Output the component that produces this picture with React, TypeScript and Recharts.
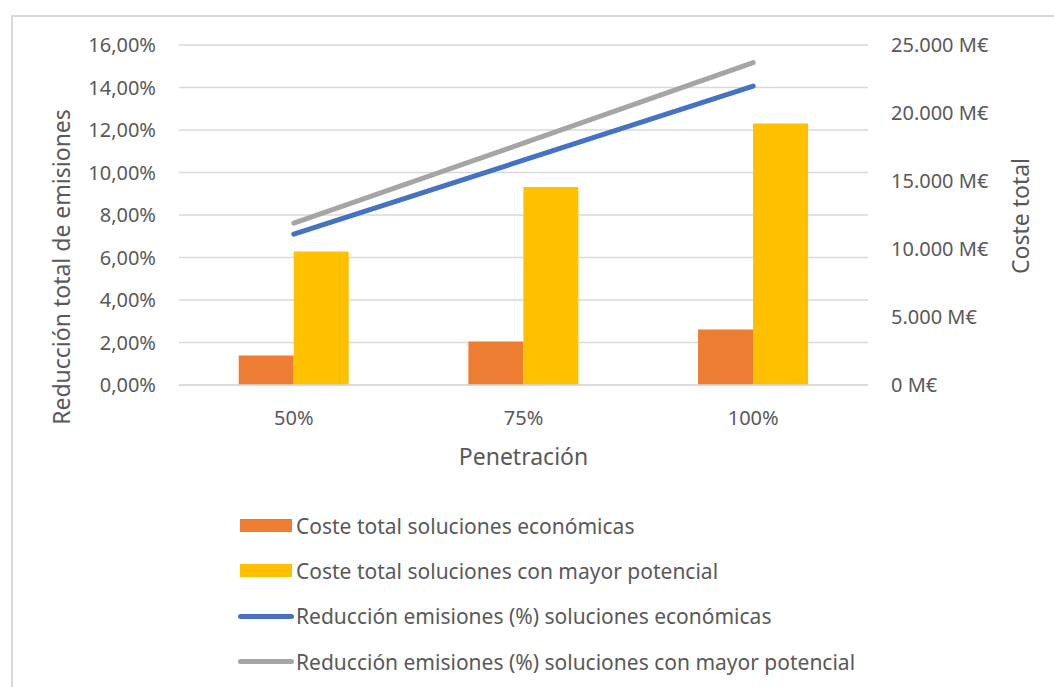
import { ComposedChart, Bar, Line, XAxis, YAxis, CartesianGrid } from 'recharts';

const categories = ['50%', '75%', '100%'];
const costeEconomicas = [2170, 3200, 4080];
const costePotencial = [9820, 14560, 19220];
const reduccionEconomicas = [7.1, 10.58, 14.07];
const reduccionPotencial = [7.62, 11.38, 15.17];
const pctTicks = [0, 2, 4, 6, 8, 10, 12, 14, 16];
const costTicks = [0, 5000, 10000, 15000, 20000, 25000];

const data = categories.map((cat, i) => ({
  cat,
  costeEco: costeEconomicas[i],
  costePot: costePotencial[i],
  redEco: reduccionEconomicas[i],
  redPot: reduccionPotencial[i],
}));

const FONT = '"Noto Sans", sans-serif';
const TEXT = '#595959';
const GRID = '#D9D9D9';

const legendItems = [
  { label: 'Coste total soluciones económicas', color: '#ED7D31', kind: 'bar' },
  { label: 'Coste total soluciones con mayor potencial', color: '#FFC000', kind: 'bar' },
  { label: 'Reducción emisiones (%) soluciones económicas', color: '#4472C4', kind: 'line' },
  { label: 'Reducción emisiones (%) soluciones con mayor potencial', color: '#A5A5A5', kind: 'line' },
];

const fmtPct = (v: number) => `${v.toFixed(2).replace('.', ',')}%`;
const fmtCost = (v: number) => `${String(v).replace(/\B(?=(\d{3})+(?!\d))/g, '.')} M€`;

const tickStyle = { fill: TEXT, fontSize: 20, fontFamily: FONT };

export default function App() {
  return (
    <div style={{ position: 'absolute', left: 0, top: 0, width: 1054, height: 687, background: '#fff', overflow: 'hidden', fontFamily: FONT }}>
      <div
        style={{
          position: 'absolute',
          left: 11,
          top: 15,
          width: 1100,
          height: 700,
          borderLeft: `2px solid ${GRID}`,
          borderTop: `2px solid ${GRID}`,
        }}
      />
      <div style={{ position: 'absolute', left: 0, top: 0 }}>
        <ComposedChart width={1054} height={480} data={data} margin={{ top: 45, right: 0, bottom: 35, left: 0 }} barCategoryGap="26%" barGap={0}>
          <CartesianGrid yAxisId="left" vertical={false} stroke={GRID} strokeWidth={1.5} />
          <XAxis
            dataKey="cat"
            height={60}
            tickSize={0}
            tickMargin={26}
            tick={tickStyle}
            axisLine={{ stroke: GRID, strokeWidth: 1.5 }}
            label={{
              content: ({ viewBox }: any) => (
                <text
                  x={viewBox.x + viewBox.width / 2}
                  y={456}
                  textAnchor="middle"
                  dominantBaseline="central"
                  fill={TEXT}
                  fontSize={23}
                  fontFamily={FONT}
                >
                  Penetración
                </text>
              ),
            }}
          />
          <YAxis
            yAxisId="left"
            orientation="left"
            width={179}
            domain={[0, 16]}
            ticks={pctTicks}
            tickFormatter={fmtPct}
            tickSize={0}
            tickMargin={23}
            tick={tickStyle}
            axisLine={false}
            label={{
              content: () => (
                <text
                  x={61}
                  y={267}
                  transform="rotate(-90 61 267)"
                  textAnchor="middle"
                  dominantBaseline="central"
                  fill={TEXT}
                  fontSize={23}
                  fontFamily={FONT}
                >
                  Reducción total de emisiones
                </text>
              ),
            }}
          />
          <YAxis
            yAxisId="right"
            orientation="right"
            width={186}
            domain={[0, 25000]}
            ticks={costTicks}
            tickFormatter={fmtCost}
            tickSize={0}
            tickMargin={23}
            tick={{ ...tickStyle, textAnchor: 'start' }}
            axisLine={false}
            label={{
              content: () => (
                <text
                  x={1020}
                  y={216}
                  transform="rotate(-90 1020 216)"
                  textAnchor="middle"
                  dominantBaseline="central"
                  fill={TEXT}
                  fontSize={23}
                  fontFamily={FONT}
                >
                  Coste total
                </text>
              ),
            }}
          />
          <Bar yAxisId="right" dataKey="costeEco" fill="#ED7D31" isAnimationActive={false} />
          <Bar yAxisId="right" dataKey="costePot" fill="#FFC000" isAnimationActive={false} />
          <Line
            yAxisId="left"
            type="linear"
            dataKey="redEco"
            stroke="#4472C4"
            strokeWidth={5}
            strokeLinecap="round"
            dot={false}
            activeDot={false}
            isAnimationActive={false}
          />
          <Line
            yAxisId="left"
            type="linear"
            dataKey="redPot"
            stroke="#A5A5A5"
            strokeWidth={5}
            strokeLinecap="round"
            dot={false}
            activeDot={false}
            isAnimationActive={false}
          />
        </ComposedChart>
      </div>
      <div style={{ position: 'absolute', left: 236, top: 503 }}>
        {legendItems.map((item) => (
          <div key={item.label} style={{ display: 'flex', alignItems: 'center', height: 45.3 }}>
            <div style={{ width: 60, display: 'flex', justifyContent: 'center' }}>
              {item.kind === 'bar' ? (
                <div style={{ width: 52, height: 13, background: item.color }} />
              ) : (
                <div style={{ width: 56, height: 5, borderRadius: 3, background: item.color }} />
              )}
            </div>
            <span style={{ color: TEXT, fontSize: 21, marginLeft: 0, whiteSpace: 'nowrap' }}>{item.label}</span>
          </div>
        ))}
      </div>
    </div>
  );
}
